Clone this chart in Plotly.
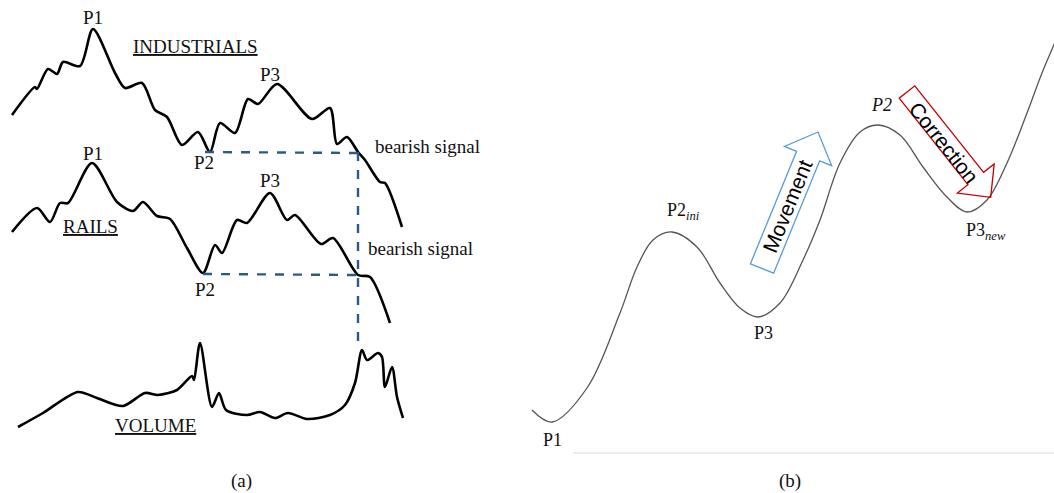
import numpy as np
import plotly.graph_objects as go

# ---- Panel (a): hand-drawn Dow theory series (pixel-like coordinates) ----
ind_x = [12, 35, 37, 48, 57, 63, 80, 93, 115, 125, 142, 155, 167, 182, 198, 210, 220, 235, 248, 258, 277, 312, 330, 337, 347, 358, 365, 380, 385, 402]
ind_y = [115, 87, 89, 69, 74, 62, 66, 29, 73, 88, 83, 110, 117, 145, 132, 152, 123, 133, 99, 104, 84, 119, 108, 144, 137, 152, 160, 182, 183, 227]

rail_x = [12, 37, 50, 60, 68, 92, 117, 133, 143, 157, 170, 187, 203, 215, 222, 237, 247, 270, 287, 295, 321, 333, 358, 370, 390]
rail_y = [232, 208, 222, 203, 203, 163, 202, 211, 202, 216, 219, 248, 273, 245, 253, 220, 223, 193, 220, 215, 244, 238, 275, 277, 323]

vol_x = [18, 43, 78, 97, 123, 145, 158, 177, 192, 194, 200, 212, 219, 226, 247, 260, 275, 288, 307, 330, 345, 355, 362, 367, 378, 382, 385, 392, 397, 403]
vol_y = [427, 413, 392, 398, 406, 393, 395, 390, 376, 380, 343, 407, 393, 410, 415, 412, 418, 413, 419, 415, 405, 383, 350, 360, 353, 357, 387, 367, 397, 418]

# ---- Panel (b): idealised trend ----
trend_x = [532, 552, 587, 620, 637, 653, 672, 697, 720, 740, 758, 780, 803, 820, 840, 860, 878, 900, 923, 947, 967, 987, 1007, 1027, 1042, 1056]
trend_y = [410, 422, 388, 313, 267, 240, 232, 247, 283, 308, 317, 303, 260, 220, 163, 132, 125, 135, 167, 197, 212, 200, 163, 113, 73, 40]

fig = go.Figure()

for xs, ys in [(ind_x, ind_y), (rail_x, rail_y), (vol_x, vol_y)]:
    fig.add_trace(go.Scatter(x=xs, y=ys, mode="lines",
                             line=dict(color="black", width=2.6, shape="spline", smoothing=0.8),
                             hoverinfo="skip", showlegend=False))

fig.add_trace(go.Scatter(x=trend_x, y=trend_y, mode="lines",
                         line=dict(color="#555555", width=1.3, shape="spline", smoothing=1.0),
                         hoverinfo="skip", showlegend=False))

# dashed signal lines
dash_col = "#2c5985"
shapes = [
    dict(type="line", x0=205, y0=152, x1=358, y1=153, line=dict(color=dash_col, width=2.4, dash="dash")),
    dict(type="line", x0=203, y0=274, x1=358, y1=275, line=dict(color=dash_col, width=2.4, dash="dash")),
    dict(type="line", x0=358, y0=152, x1=358, y1=348, line=dict(color=dash_col, width=2.4, dash="dash")),
    dict(type="line", x0=573, y0=453, x1=1054, y1=453, line=dict(color="#d9d9d9", width=1)),
]


def block_arrow(tail, tip, shaft_w, head_w, head_l):
    tail = np.array(tail, float)
    tip = np.array(tip, float)
    d = tip - tail
    L = np.linalg.norm(d)
    u = d / L
    p = np.array([-u[1], u[0]])
    base = tip - u * head_l
    pts = [tail + p * shaft_w / 2, base + p * shaft_w / 2, base + p * head_w / 2, tip,
           base - p * head_w / 2, base - p * shaft_w / 2, tail - p * shaft_w / 2]
    return "M " + " L ".join(f"{a:.1f},{b:.1f}" for a, b in pts) + " Z"


shapes.append(dict(type="path", path=block_arrow((762, 268.5), (818, 132), 25, 51, 26),
                   line=dict(color="#5b9bd5", width=1.3), fillcolor="rgba(0,0,0,0)"))
shapes.append(dict(type="path", path=block_arrow((907, 92), (990.7, 197.3), 20, 47, 24),
                   line=dict(color="#c00000", width=1.3), fillcolor="rgba(0,0,0,0)"))

serif = "Liberation Serif"
ann = []


def txt(x, y, s, size=19, font=serif, color="#111111", angle=0):
    ann.append(dict(x=x, y=y, text=s, showarrow=False, textangle=angle,
                    font=dict(family=font, size=size, color=color), xanchor="center", yanchor="middle"))


txt(93, 17, "P1")
txt(195, 46, "<u>INDUSTRIALS</u>")
txt(270, 74, "P3")
txt(204, 162, "P2")
txt(427, 146, "bearish signal")
txt(93, 153, "P1")
txt(270, 180, "P3")
txt(90, 226, "<u>RAILS</u>")
txt(205, 289, "P2")
txt(420, 248, "bearish signal")
txt(155, 425, "<u>VOLUME</u>")
txt(241, 481, "(a)", size=19)
txt(790, 481, "(b)", size=19)

txt(552, 440, "P1", size=18)
txt(683, 211, "P2<sub><i>ini</i></sub>", size=18)
txt(763, 333, "P3", size=18)
txt(881, 105, "<i>P2</i>", size=18)
txt(986, 231, "P3<sub><i>new</i></sub>", size=18)

txt(787, 206, "Movement", size=21, font="Liberation Sans", color="black", angle=-67.7)
txt(944, 142, "Correction", size=21, font="Liberation Sans", color="black", angle=51.5)

fig.update_layout(
    width=1054, height=493,
    margin=dict(l=0, r=0, t=0, b=0),
    paper_bgcolor="white", plot_bgcolor="white",
    xaxis=dict(range=[0, 1054], visible=False, fixedrange=True),
    yaxis=dict(range=[493, 0], visible=False, fixedrange=True),
    shapes=shapes, annotations=ann, showlegend=False,
)

fig.write_html("out.html", config={"displayModeBar": False},
               post_script="document.body.style.margin='0';document.body.style.overflow='hidden';")
